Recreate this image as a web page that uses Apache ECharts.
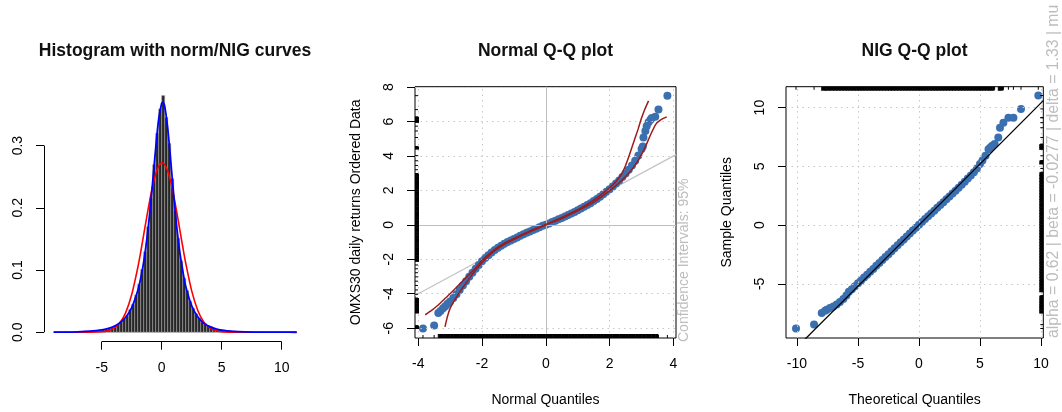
<!DOCTYPE html>
<html><head><meta charset="utf-8">
<script src="https://cdn.jsdelivr.net/npm/echarts@6/dist/echarts.min.js"></script>
<style>html,body{margin:0;padding:0;background:#fff}#c{width:1062px;height:412px}</style>
</head><body><div id="c"></div>
<script>
// ---------------- data ----------------
const histFirstBreak = -9;
const histBinWidth = 0.25;
const histDensity = [
  0.0004,0,0.0004,0,0.0004,0.0004,0.0008,0.0004,0.0008,0.0008,
  0.0012,0.0012,0.0016,0.0024,0.0028,0.0036,0.0044,0.0052,0.0068,0.0084,
  0.0104,0.0128,0.0168,0.0224,0.0268,0.0364,0.0452,0.0596,0.0772,0.1008,
  0.1292,0.1696,0.2152,0.2692,0.3196,0.3588,0.3804,0.3452,0.3036,0.2468,
  0.1956,0.1512,0.1148,0.0868,0.0668,0.0496,0.0384,0.0296,0.0228,0.0172,
  0.0136,0.0108,0.0088,0.0068,0.0052,0.0044,0.0036,0.0028,0.0024,0.0016,
  0.0016,0.0012,0.0008,0.0008,0.0004,0.0008,0.0004,0,0.0004,0.0004,
  0,0,0.0004,0,0,0.0004,0,0,0,0,0.0004
];
const curveX = [-9,-8,-7,-6,-5,-4.5,-4,-3.5,-3,-2.5,-2,-1.75,-1.5,-1.25,-1,-0.75,-0.5,-0.25,0,0.1,0.25,0.5,0.75,1,1.25,1.5,1.75,2,2.5,3,3.5,4,4.5,5,6,7,8,9,10,11.25];
const normDensity = [0,0,0,0.00005,0.0007,0.0022,0.0061,0.0147,0.0316,0.0606,0.1033,0.129,0.1568,0.1848,0.2116,0.2355,0.2544,0.267,0.2722,0.2721,0.2695,0.2592,0.2421,0.2197,0.1936,0.1657,0.1378,0.1113,0.0665,0.0354,0.0167,0.0071,0.0027,0.0009,0.0001,0,0,0,0,0];
const nigDensity = [0.0002,0.0003,0.0007,0.0017,0.0038,0.0059,0.0093,0.0149,0.024,0.0397,0.0668,0.087,0.113,0.148,0.191,0.242,0.296,0.343,0.368,0.3696,0.363,0.328,0.276,0.22,0.17,0.13,0.0997,0.074,0.0426,0.0249,0.0147,0.009,0.0055,0.0034,0.0014,0.0006,0.00025,0.0001,0.00005,0.00002];

// Normal Q-Q (standardised returns)
const nqTheoretical = [-3.85,-3.5,-3.37,-3.3,-3.22,-3.15,-3.08,
  -3.0,-2.9,-2.8,-2.7,-2.6,-2.5,-2.4,-2.3,-2.2,-2.1,-2.0,-1.9,-1.8,-1.7,-1.6,-1.5,-1.4,-1.3,-1.2,-1.1,
  -1.0,-0.9,-0.8,-0.7,-0.6,-0.5,-0.4,-0.3,-0.2,-0.1,0,0.1,0.2,0.3,0.4,0.5,0.6,0.7,0.8,0.9,
  1.0,1.1,1.2,1.3,1.4,1.5,1.6,1.7,1.8,1.9,2.0,2.1,2.2,2.3,2.4,2.5,2.6,2.7,2.8,2.9,3.0,
  3.04,3.06,3.12,3.16,3.22,3.28,3.32,3.43,3.53,3.81];
const nqSample = [-6.02,-5.85,-5.12,-5.0,-4.85,-4.72,-4.58,
  -4.45,-4.25,-4.03,-3.78,-3.52,-3.27,-3.02,-2.78,-2.55,-2.33,-2.12,-1.93,-1.76,-1.6,-1.46,-1.33,-1.21,-1.1,-1.0,-0.91,
  -0.82,-0.73,-0.64,-0.55,-0.46,-0.38,-0.3,-0.22,-0.14,-0.06,0.01,0.08,0.16,0.24,0.32,0.4,0.48,0.57,0.66,0.75,
  0.85,0.95,1.05,1.15,1.26,1.38,1.5,1.63,1.77,1.92,2.07,2.23,2.4,2.58,2.78,2.98,3.2,3.45,3.72,4.02,4.4,
  4.55,5.07,5.45,5.73,5.95,6.1,6.21,6.27,6.69,7.5];
const ciHiX = [-3.78,-3.6,-3.4,-3.2,-3.0,-2.8,-2.6,-2.4,-2.2,-2.0,-1.9,-1.6,-1.3,-1.0,-0.5,0,0.5,1.0,1.3,1.6,1.9,2.1,2.2,2.3,2.4,2.5,2.6,2.7,2.8,2.9,3.0,3.1,3.22];
const ciHiY = [-5.22,-5.0,-4.7,-4.35,-4.0,-3.62,-3.25,-2.88,-2.5,-2.06,-1.88,-1.42,-1.07,-0.79,-0.35,0.03,0.43,0.88,1.2,1.56,2.0,2.33,2.52,2.75,3.05,3.45,3.95,4.5,5.05,5.6,6.2,6.7,7.2];
const ciLoX = [-3.16,-3.08,-3.0,-2.9,-2.8,-2.7,-2.6,-2.5,-2.4,-2.3,-2.2,-2.1,-2.0,-1.9,-1.6,-1.3,-1.0,-0.5,0,0.5,1.0,1.3,1.6,1.9,2.1,2.3,2.5,2.7,2.9,3.1,3.3,3.45,3.6,3.79];
const ciLoY = [-5.92,-5.3,-4.85,-4.5,-4.2,-3.92,-3.64,-3.38,-3.12,-2.87,-2.63,-2.4,-2.18,-1.99,-1.5,-1.13,-0.85,-0.41,-0.01,0.37,0.82,1.1,1.44,1.84,2.13,2.44,2.8,3.22,3.75,4.45,5.3,5.85,6.1,6.27];
const normRefLine = {intercept: 0, slope: 1};

// NIG Q-Q
const gqTheoretical = [-10.08,-8.6,-7.97,-7.7,-7.56,-7.3,-7.02,-6.75,-6.48,-6.2,-5.95,
  -5.75,-5.5,-5.25,-5.0,-4.75,-4.5,-4.25,-4.0,-3.75,-3.5,-3.25,-3.0,-2.75,-2.5,-2.25,-2.0,-1.75,-1.5,-1.25,-1.0,-0.75,-0.5,-0.25,
  0,0.25,0.5,0.75,1.0,1.25,1.5,1.75,2.0,2.25,2.5,2.75,3.0,3.25,3.5,3.75,4.0,4.25,4.5,4.75,
  5.0,5.2,5.45,5.7,5.85,6.0,6.2,6.5,6.64,6.92,7.33,7.74,8.36,9.78];
const gqSample = [-8.8,-8.47,-7.49,-7.3,-7.2,-7.05,-6.93,-6.75,-6.55,-6.3,-6.0,
  -5.68,-5.45,-5.2,-4.96,-4.72,-4.47,-4.22,-3.98,-3.73,-3.47,-3.23,-2.98,-2.72,-2.48,-2.23,-1.98,-1.72,-1.47,-1.22,-0.97,-0.72,-0.47,-0.22,
  0.03,0.27,0.51,0.75,0.99,1.23,1.47,1.71,1.95,2.19,2.44,2.68,2.93,3.18,3.43,3.7,3.96,4.22,4.5,4.82,
  5.2,5.5,5.9,6.45,6.6,6.75,6.9,7.46,8.29,8.72,9.14,9.14,9.89,11.03];
const nigRefLine = {intercept: 0, slope: 1.04};

const histXTicks = [-5,0,5,10];
const histYTicks = [0,0.1,0.2,0.3];
const nqXTicks = [-4,-2,0,2,4];
const nqYTicks = [-6,-4,-2,0,2,4,6,8];
const gqXTicks = [-10,-5,0,5,10];
const gqYTicks = [-5,0,5,10];
const nigParamText = 'alpha = 0.62 | beta = -0.0277 | delta = 1.33 | mu';

// ---------------- layout / style ----------------
const FONT = "'Liberation Sans', Arial, Helvetica, sans-serif";
const LIM = {
  h: {x:[-9.81,12.06], y:[-0.0152,0.395]},
  n: {x:[-4.1,4.08], y:[-6.57,8.02]},
  g: {x:[-10.9,10.19], y:[-9.61,11.78]}
};
const PT_COLOR = '#3b70b0';
const GRID_GRAY = '#c8c8c8';

function xAx(gi, lim, ticks, extra) {
  return Object.assign({
    type:'value', gridIndex:gi, min:lim[0], max:lim[1],
    axisLine:{show:false, onZero:false},
    axisTick:{show:true, inside:false, customValues:ticks, length:8, lineStyle:{color:'#000', width:1}},
    axisLabel:{show:true, customValues:ticks, margin:19, color:'#000', fontSize:14, fontFamily:FONT},
    splitLine:{show:false}
  }, extra || {});
}
function yAx(gi, lim, ticks, extra, fmt) {
  const a = xAx(gi, lim, ticks, extra);
  a.axisLabel.rotate = 90;
  if (fmt) a.axisLabel.formatter = fmt;
  return a;
}
function nameX(n) { return {name:n, nameLocation:'middle', nameGap:55, nameTextStyle:{fontSize:14, color:'#000', fontFamily:FONT}}; }
function nameY(n) { return {name:n, nameLocation:'middle', nameGap:52, nameRotate:90, nameTextStyle:{fontSize:14, color:'#000', fontFamily:FONT}}; }

function gridLines(gi, xs, ys) {
  return {
    type:'line', xAxisIndex:gi, yAxisIndex:gi, data:[], silent:true, z:1,
    markLine:{silent:true, symbol:'none', animation:false, label:{show:false},
      lineStyle:{color:GRID_GRAY, type:[1.5,4], width:1},
      emphasis:{disabled:true},
      data: xs.map(v=>({xAxis:v})).concat(ys.map(v=>({yAxis:v})))}
  };
}
// rug: one tick per observation; where neighbouring ticks are very close the gap is filled (dense band)
function rug(gi, values, side) {
  const sorted = values.slice().sort((a,b)=>a-b);
  return {
    type:'custom', xAxisIndex:gi, yAxisIndex:gi, silent:true, z:6,
    data: sorted.map((v,i)=>[v, v, i < sorted.length-1 ? sorted[i+1] : v]),
    renderItem: function(params, api) {
      const cs = params.coordSys;
      const horiz = (side === 'bottom' || side === 'top');
      const c = api.coord([api.value(0), api.value(1)]);
      const n = api.coord([api.value(2), api.value(2)]);
      const L = 4;
      const children = [];
      if (horiz) {
        const gap = n[0] - c[0];
        const h = (gap > 0 && gap < 3.6) ? L : 3;
        const y0 = side === 'bottom' ? cs.y + cs.height - h : cs.y;
        children.push({type:'rect', shape:{x:c[0]-0.5, y:y0, width:1, height:h}, style:{fill:'#000'}});
        if (gap > 0 && gap < 3.6) children.push({type:'rect', shape:{x:c[0], y:y0, width:gap, height:h}, style:{fill:'#000'}});
      } else {
        const gap = c[1] - n[1];
        const w = (gap > 0 && gap < 3.6) ? L : 3;
        const x0 = side === 'left' ? cs.x : cs.x + cs.width - w;
        children.push({type:'rect', shape:{x:x0, y:c[1]-0.5, width:w, height:1}, style:{fill:'#000'}});
        if (gap > 0 && gap < 3.6) children.push({type:'rect', shape:{x:x0, y:n[1], width:w, height:gap}, style:{fill:'#000'}});
      }
      return {type:'group', children};
    }
  };
}
function zip(a, b) { return a.map((v,i)=>[v, b[i]]); }

const histBins = histDensity.map((d,i)=>[histFirstBreak+i*histBinWidth, histFirstBreak+(i+1)*histBinWidth, d]);

const option = {
  animation:false,
  backgroundColor:'#fff',
  textStyle:{fontFamily:FONT},
  title:[
    {text:'Histogram with norm/NIG curves', left:175, top:42, textAlign:'center', padding:0, textStyle:{fontSize:17.5, fontWeight:'bold', color:'#111', fontFamily:FONT}},
    {text:'Normal Q-Q plot', left:545.5, top:42, textAlign:'center', padding:0, textStyle:{fontSize:17.5, fontWeight:'bold', color:'#111', fontFamily:FONT}},
    {text:'NIG Q-Q plot', left:914.6, top:42, textAlign:'center', padding:0, textStyle:{fontSize:17.5, fontWeight:'bold', color:'#111', fontFamily:FONT}}
  ],
  grid:[
    {left:44, top:86.5, width:262.4, height:255.2},
    {left:415, top:86.7, width:261, height:255, show:true, borderColor:'#000', borderWidth:1, backgroundColor:'transparent'},
    {left:786, top:86.7, width:257.3, height:255, show:true, borderColor:'#000', borderWidth:1, backgroundColor:'transparent'}
  ],
  xAxis:[
    xAx(0, LIM.h.x, histXTicks),
    xAx(1, LIM.n.x, nqXTicks, nameX('Normal Quantiles')),
    xAx(2, LIM.g.x, gqXTicks, nameX('Theoretical Quantiles'))
  ],
  yAxis:[
    yAx(0, LIM.h.y, histYTicks, null, v=>v.toFixed(1)),
    yAx(1, LIM.n.y, nqYTicks, nameY('OMXS30 daily returns Ordered Data')),
    yAx(2, LIM.g.y, gqYTicks, nameY('Sample Quantiles'))
  ],
  series:[
    // ---- histogram panel ----
    {
      type:'custom', xAxisIndex:0, yAxisIndex:0, silent:true, z:2,
      encode:{x:[0,1], y:2},
      data: histBins,
      renderItem: function(params, api) {
        const a = api.coord([api.value(0), api.value(2)]);
        const b = api.coord([api.value(1), 0]);
        return {type:'rect', shape:{x:a[0], y:a[1], width:b[0]-a[0], height:b[1]-a[1]},
          style:{fill:'#262626', stroke:'#a0a0a0', lineWidth:0.6}};
      }
    },
    {
      type:'line', xAxisIndex:0, yAxisIndex:0, data:[], silent:true, z:3,
      markLine:{silent:true, symbol:'none', animation:false, label:{show:false}, emphasis:{disabled:true},
        lineStyle:{color:'#000', type:'solid', width:1},
        data:[
          [{coord:[histXTicks[0], LIM.h.y[0]]}, {coord:[histXTicks[histXTicks.length-1], LIM.h.y[0]]}],
          [{coord:[LIM.h.x[0], histYTicks[0]]}, {coord:[LIM.h.x[0], histYTicks[histYTicks.length-1]]}]
        ]}
    },
    {type:'line', xAxisIndex:0, yAxisIndex:0, data:zip(curveX, normDensity), showSymbol:false, smooth:0.3,
      lineStyle:{color:'#ff0000', width:1.6}, silent:true, z:4},
    {type:'line', xAxisIndex:0, yAxisIndex:0, data:zip(curveX, nigDensity), showSymbol:false, smooth:0.3,
      lineStyle:{color:'#0000ff', width:1.8}, silent:true, z:5},

    // ---- normal QQ panel ----
    gridLines(1, nqXTicks.filter(v=>v!==0), nqYTicks.filter(v=>v!==0)),
    {
      type:'line', xAxisIndex:1, yAxisIndex:1, data:[], silent:true, z:2,
      markLine:{silent:true, symbol:'none', animation:false, label:{show:false}, emphasis:{disabled:true},
        lineStyle:{color:'#bebebe', type:'solid', width:1},
        data:[{xAxis:0},{yAxis:0}]}
    },
    {type:'line', xAxisIndex:1, yAxisIndex:1, showSymbol:false, silent:true, z:3,
      data:[[LIM.n.x[0], normRefLine.intercept + normRefLine.slope*LIM.n.x[0]], [LIM.n.x[1], normRefLine.intercept + normRefLine.slope*LIM.n.x[1]]],
      lineStyle:{color:'#c4c4c4', width:1.3}},
    {type:'scatter', xAxisIndex:1, yAxisIndex:1, data:zip(nqTheoretical, nqSample), symbolSize:8,
      itemStyle:{color:PT_COLOR, opacity:1}, silent:true, z:4},
    {type:'line', xAxisIndex:1, yAxisIndex:1, data:zip(ciHiX, ciHiY), showSymbol:false, smooth:0.2,
      lineStyle:{color:'#9e1b1b', width:1.5}, silent:true, z:5},
    {type:'line', xAxisIndex:1, yAxisIndex:1, data:zip(ciLoX, ciLoY), showSymbol:false, smooth:0.2,
      lineStyle:{color:'#9e1b1b', width:1.5}, silent:true, z:5},
    rug(1, nqTheoretical, 'bottom'),
    rug(1, nqSample, 'left'),

    // ---- NIG QQ panel ----
    gridLines(2, gqXTicks, gqYTicks),
    {type:'scatter', xAxisIndex:2, yAxisIndex:2, data:zip(gqTheoretical, gqSample), symbolSize:8,
      itemStyle:{color:PT_COLOR, opacity:1}, silent:true, z:4},
    {type:'line', xAxisIndex:2, yAxisIndex:2, showSymbol:false, silent:true, z:5,
      data:[[LIM.g.x[0], nigRefLine.intercept + nigRefLine.slope*LIM.g.x[0]], [LIM.g.x[1], nigRefLine.intercept + nigRefLine.slope*LIM.g.x[1]]],
      lineStyle:{color:'#000', width:1.3}},
    rug(2, gqTheoretical, 'top'),
    rug(2, gqSample, 'right')
  ],
  graphic:[
    {type:'text', x:684.5, y:342, rotation:Math.PI/2, silent:true,
      style:{text:'Confidence Intervals: 95%', fill:'#bdbdbd', fontSize:14, fontFamily:FONT, align:'left', verticalAlign:'middle'}},
    {type:'text', x:1054, y:338, rotation:Math.PI/2, silent:true,
      style:{text:nigParamText, fill:'#bdbdbd', fontSize:15.8, fontFamily:FONT, align:'left', verticalAlign:'middle'}}
  ]
};
option.series.forEach(s=>{ if (s.type==='line') s.clip = true; });

const chart = echarts.init(document.getElementById('c'), null, {renderer:'canvas'});
chart.setOption(option);
</script>
</body></html>
